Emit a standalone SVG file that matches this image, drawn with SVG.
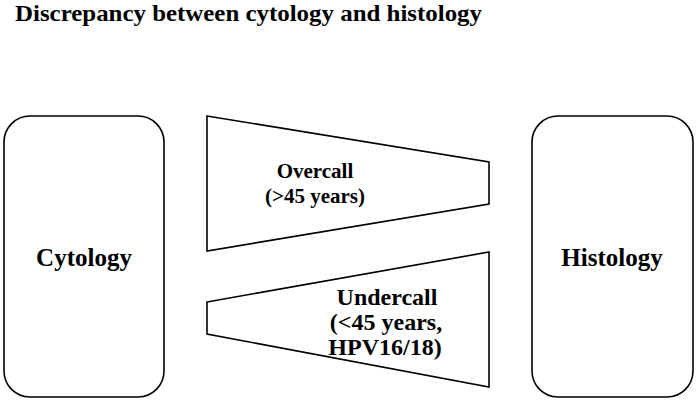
<svg xmlns="http://www.w3.org/2000/svg" width="696" height="402" viewBox="0 0 696 402">
<style>
.box{fill:#fff;stroke:#000;stroke-width:1.6}
.t{font-family:"Liberation Serif","Times New Roman",serif;font-weight:bold;fill:#000;text-anchor:middle}
.big{font-size:25px}
.mid{font-size:21px}
.und{font-size:24px}
</style>
<rect width="696" height="402" fill="#fff"/>
<text x="15" y="21" font-family="Liberation Serif, Times New Roman, serif" font-weight="bold" font-size="23.5" textLength="467" lengthAdjust="spacingAndGlyphs" fill="#000">Discrepancy between cytology and histology</text>
<g id="cytology">
<rect class="box" x="4" y="116" width="160" height="281" rx="26" ry="26"/>
<text class="t big" x="84" y="266">Cytology</text>
</g>
<g id="histology">
<rect class="box" x="532" y="116" width="161" height="281" rx="26" ry="26"/>
<text class="t big" x="612" y="266">Histology</text>
</g>
<g id="connectors">
<g id="overcall">
<polygon class="box" points="207,116 489,162 489,204 207,251"/>
<text class="t mid" x="315" y="178">Overcall</text>
<text class="t mid" x="315" y="203">(&gt;45 years)</text>
</g>
<g id="undercall">
<polygon class="box" points="207,302 489,252 489,387 207,334"/>
<text class="t und" x="387" y="305">Undercall</text>
<text class="t und" x="386" y="330">(&lt;45 years,</text>
<text class="t und" x="385" y="355">HPV16/18)</text>
</g>
</g>
</svg>
